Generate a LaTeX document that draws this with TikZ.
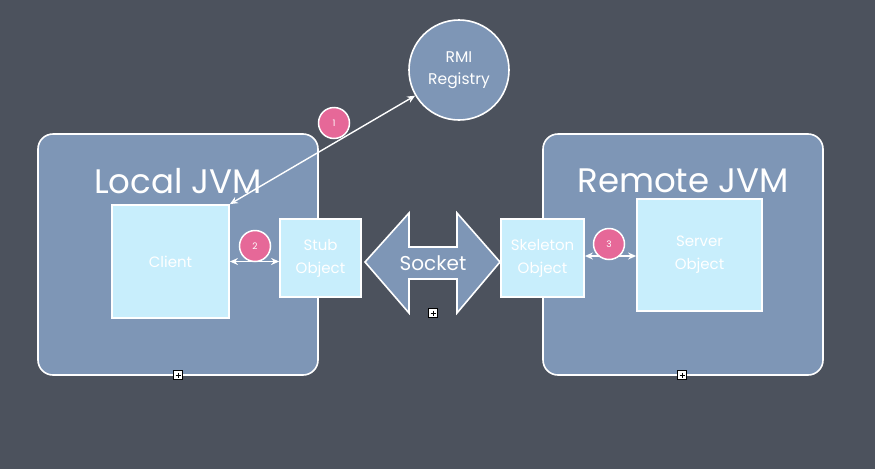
\documentclass[tikz,border=0pt]{standalone}
\usepackage{fontspec}
\setmainfont{Poppins}
\usetikzlibrary{arrows.meta}
\definecolor{board}{RGB}{76,82,93}
\definecolor{jvmblue}{RGB}{126,150,182}
\definecolor{paleblue}{RGB}{200,238,252}
\definecolor{pinkc}{RGB}{230,104,152}
\tikzset{
  jvm/.style={draw=white, line width=1.6pt, fill=jvmblue, rounded corners=15pt},
  objbox/.style={draw=white, line width=1.8pt, fill=paleblue, text=white, align=center, inner sep=0pt, font=\fontsize{15}{23}\selectfont},
  title/.style={text=white, font=\fontsize{34}{38}\selectfont},
  numc/.style={circle, draw=white, line width=1.5pt, fill=pinkc, minimum size=31pt, inner sep=0pt, text=white, font=\fontsize{9}{10}\selectfont},
  conn/.style={draw=white, line width=1.4pt, {Stealth[length=8pt,width=7pt]}-{Stealth[length=8pt,width=7pt]}},
  handle/.style={draw=black, fill=white, line width=0.6pt, minimum size=9pt, inner sep=0pt,
    path picture={\draw[black, line width=0.7pt] ([yshift=-2pt]path picture bounding box.north) -- ([yshift=2pt]path picture bounding box.south) ([xshift=2pt]path picture bounding box.west) -- ([xshift=-2pt]path picture bounding box.east);}}
}
\begin{document}
\begin{tikzpicture}[x=1pt,y=-1pt]
\fill[board] (0,0) rectangle (875,469);
\useasboundingbox (0,0) rectangle (875,469);

% JVM containers
\node[jvm, minimum width=280pt, minimum height=241pt] (local) at (178,254.5) {};
\node[jvm, minimum width=280pt, minimum height=241pt] (remote) at (683,254.5) {};
\node[title] (localt) at (178,181) {Local JVM};
\node[title] (remotet) at (683,181) {Remote JVM};

% objects
\node[objbox, minimum width=117pt, minimum height=113pt] (client) at (170.5,261.5) {Client};
\node[objbox, minimum width=81pt, minimum height=78pt] (stub) at (320.5,258) {Stub\\Object};
\node[objbox, minimum width=83pt, minimum height=78pt] (skel) at (542.5,258) {Skeleton\\Object};
\node[objbox, minimum width=125pt, minimum height=112pt] (server) at (699.5,255) {Server\\Object};

% RMI registry
\node[circle, draw=white, line width=1.6pt, fill=jvmblue, minimum size=100pt, inner sep=0pt, text=white, align=center, font=\fontsize{15.5}{22}\selectfont] (rmi) at (459,70) {RMI\\Registry};

% socket double arrow
\draw[draw=white, line width=1.6pt, fill=jvmblue, line join=miter]
  (365,262) -- (409,213) -- (409,247) -- (457,247) -- (457,213) -- (500,262)
  -- (457,313) -- (457,279) -- (409,279) -- (409,313) -- cycle;
\node[text=white, font=\fontsize{20}{22}\selectfont] (socket) at (433,263) {Socket};

% connectors
\draw[conn] (client.north east) -- (rmi);
\draw[conn] (client.east) -- (client.east -| stub.west);
\draw[conn] ([yshift=2pt]skel.east) -- ([yshift=2pt]skel.east -| server.west);

% number badges
\node[numc] (n1) at (334,123) {1};
\node[numc] (n2) at (255,246) {2};
\node[numc] (n3) at (609,244) {3};

% selection handles
\node[handle] (h1) at (178,375) {};
\node[handle] (h2) at (682,375) {};
\node[handle] (h3) at (433,313) {};
\end{tikzpicture}
\end{document}
